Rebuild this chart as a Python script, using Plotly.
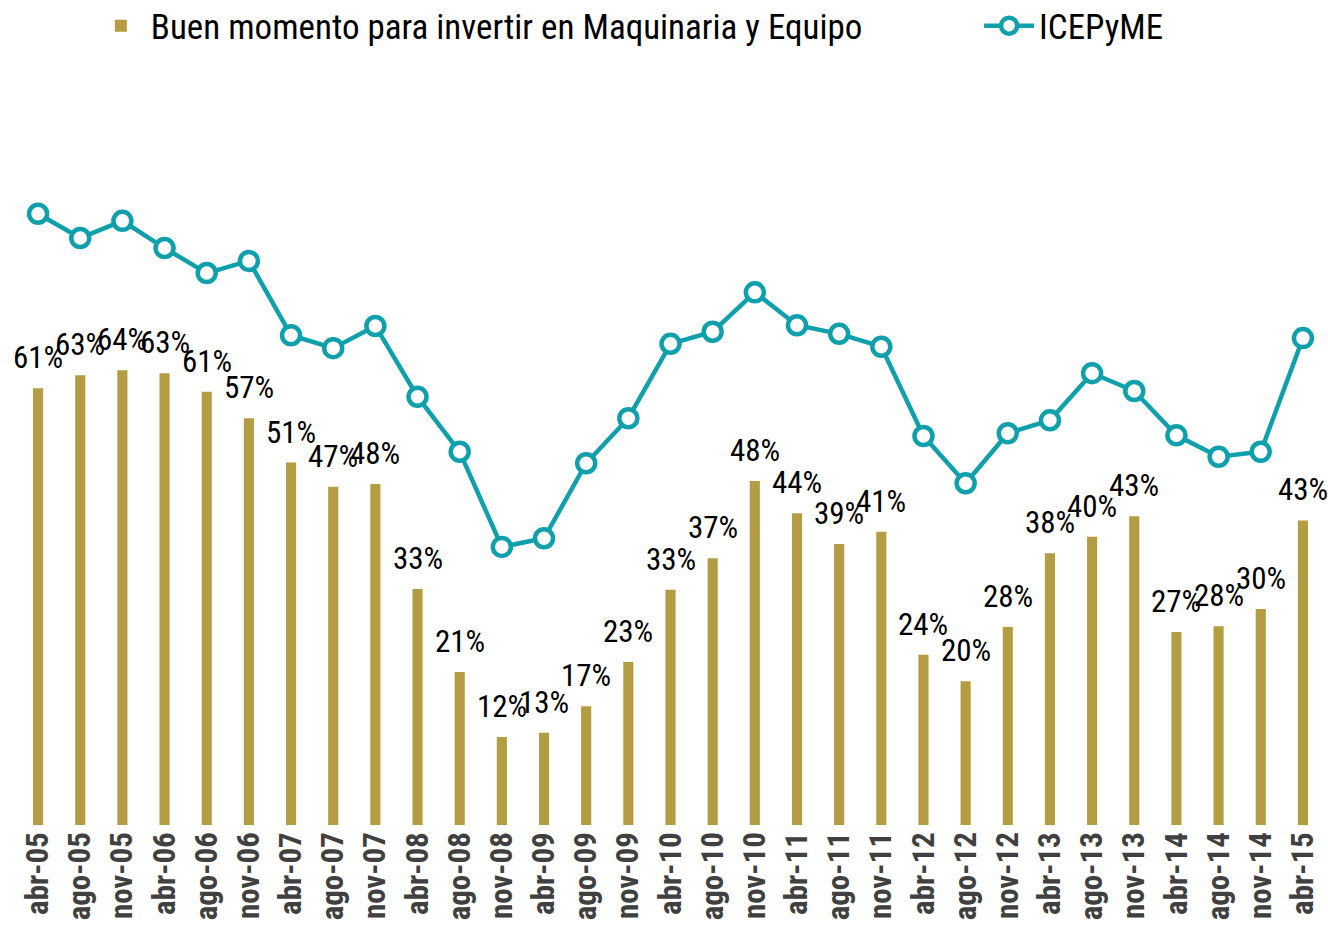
import plotly.graph_objects as go

categories = ["abr-05", "ago-05", "nov-05", "abr-06", "ago-06", "nov-06", "abr-07", "ago-07",
              "nov-07", "abr-08", "ago-08", "nov-08", "abr-09", "ago-09", "nov-09", "abr-10",
              "ago-10", "nov-10", "abr-11", "ago-11", "nov-11", "abr-12", "ago-12", "nov-12",
              "abr-13", "ago-13", "nov-13", "abr-14", "ago-14", "nov-14", "abr-15"]

buen_momento = [61.1, 62.9, 63.6, 63.2, 60.6, 56.9, 50.7, 47.3, 47.7, 33.0, 21.4, 12.3, 12.9,
                16.6, 22.8, 32.9, 37.3, 48.1, 43.6, 39.3, 41.0, 23.8, 20.1, 27.7, 38.0, 40.3,
                43.2, 27.0, 27.8, 30.2, 42.6]

icepyme = [85.5, 82.1, 84.5, 80.7, 77.2, 78.9, 68.5, 66.7, 69.8, 59.9, 52.2, 38.9, 40.1, 50.6,
           56.9, 67.3, 69.0, 74.5, 69.9, 68.7, 66.9, 54.4, 47.8, 54.8, 56.6, 63.2, 60.7, 54.5,
           51.5, 52.2, 68.1]

BAR_COLOR = "#B39C42"
LINE_COLOR = "#0FA0AC"
NARROW = "Roboto Condensed, Liberation Sans Narrow, Arial Narrow, sans-serif"

fig = go.Figure()
fig.add_trace(go.Bar(
    x=categories, y=buen_momento, name="Buen momento para invertir en Maquinaria y Equipo",
    marker=dict(color=BAR_COLOR, line=dict(width=0)), width=0.24, legend="legend",
))
fig.add_trace(go.Scatter(
    x=categories, y=icepyme, name="ICEPyME", yaxis="y2", mode="lines+markers",
    line=dict(color=LINE_COLOR, width=4.5),
    marker=dict(size=18, color="white", line=dict(color=LINE_COLOR, width=4.5)),
    legend="legend2",
))

for c, v in zip(categories, buen_momento):
    fig.add_annotation(x=c, y=v, text=f"{v:.0f}%", showarrow=False, yanchor="bottom",
                       xanchor="center", yshift=10,
                       font=dict(family=NARROW, size=31, color="#000000"))

fig.update_layout(
    width=1328, height=927,
    margin=dict(l=17, r=4, t=60, b=102, autoexpand=False),
    paper_bgcolor="white", plot_bgcolor="white",
    showlegend=True,
    legend=dict(x=0.0565, y=1.0446, xanchor="left", yanchor="middle",
                font=dict(family=NARROW, size=35, color="#000000"), itemwidth=50),
    legend2=dict(x=0.7361, y=1.0446, xanchor="left", yanchor="middle",
                 font=dict(family=NARROW, size=35, color="#000000"), itemwidth=50),
    bargap=0.5,
    xaxis=dict(type="category", range=[-0.5, 30.5], showgrid=False, showline=False,
               zeroline=False, ticks="", tickangle=-90,
               tickfont=dict(family=NARROW, size=31, color="#404040", weight="bold")),
    yaxis=dict(range=[0, 107], visible=False, showgrid=False),
    yaxis2=dict(range=[0, 107], visible=False, overlaying="y", showgrid=False),
)

fig.write_html(
    "out.html",
    config={"displayModeBar": False},
    post_script="document.body.style.margin='0';document.body.style.overflow='hidden';",
)
